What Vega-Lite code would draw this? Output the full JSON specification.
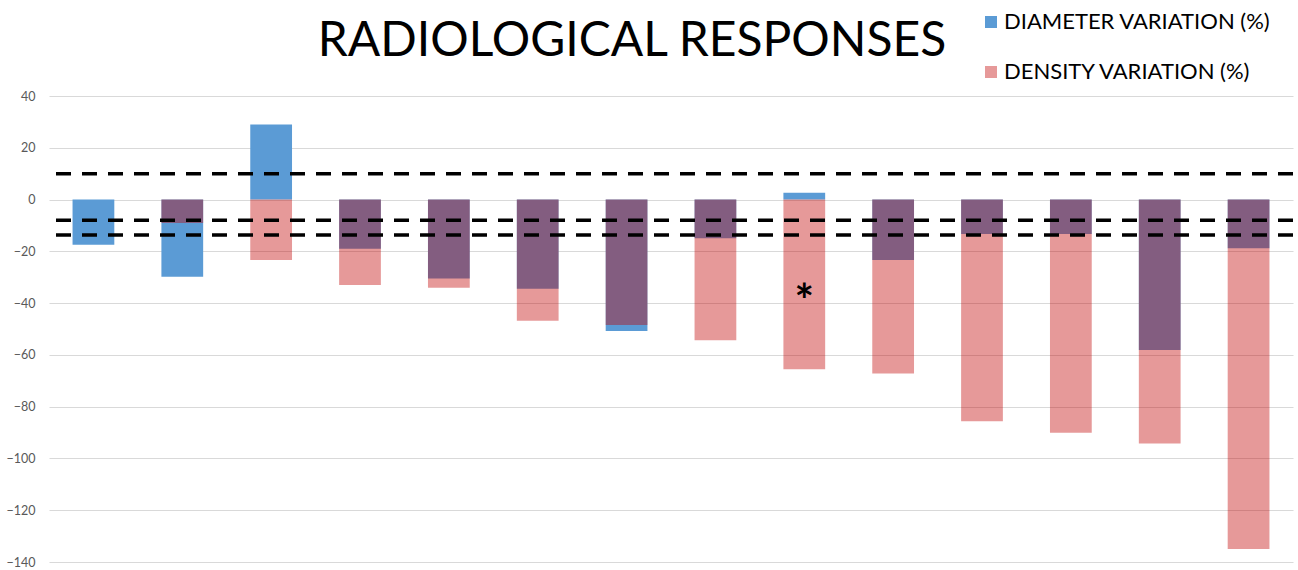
{
  "$schema": "https://vega.github.io/schema/vega-lite/v6.json",
  "width": 1244,
  "height": 466,
  "autosize": {"type": "none"},
  "padding": {"left": 49, "top": 96, "right": 5, "bottom": 8},
  "background": "white",
  "title": {
    "text": "RADIOLOGICAL RESPONSES",
    "font": "Lato",
    "fontSize": 48,
    "fontWeight": "normal",
    "color": "#000000",
    "anchor": "middle",
    "baseline": "alphabetic",
    "dx": -39,
    "dy": 93,
    "offset": 0
  },
  "config": {
    "view": {"stroke": null},
    "axis": {"labelFont": "Lato", "titleFont": "Lato"},
    "legend": {"labelFont": "Lato"}
  },
  "datasets": {
    "bars": [
      {"patient": 1, "measure": "DIAMETER VARIATION (%)", "value": -17.5},
      {"patient": 2, "measure": "DIAMETER VARIATION (%)", "value": -29.8},
      {"patient": 3, "measure": "DIAMETER VARIATION (%)", "value": 29},
      {"patient": 4, "measure": "DIAMETER VARIATION (%)", "value": -19},
      {"patient": 5, "measure": "DIAMETER VARIATION (%)", "value": -30.5},
      {"patient": 6, "measure": "DIAMETER VARIATION (%)", "value": -34.5},
      {"patient": 7, "measure": "DIAMETER VARIATION (%)", "value": -50.8},
      {"patient": 8, "measure": "DIAMETER VARIATION (%)", "value": -14.9},
      {"patient": 9, "measure": "DIAMETER VARIATION (%)", "value": 2.6},
      {"patient": 10, "measure": "DIAMETER VARIATION (%)", "value": -23.3},
      {"patient": 11, "measure": "DIAMETER VARIATION (%)", "value": -13.3},
      {"patient": 12, "measure": "DIAMETER VARIATION (%)", "value": -13.3},
      {"patient": 13, "measure": "DIAMETER VARIATION (%)", "value": -58.1},
      {"patient": 14, "measure": "DIAMETER VARIATION (%)", "value": -18.8},
      {"patient": 1, "measure": "DENSITY VARIATION (%)", "value": 0},
      {"patient": 2, "measure": "DENSITY VARIATION (%)", "value": -9.1},
      {"patient": 3, "measure": "DENSITY VARIATION (%)", "value": -23.3},
      {"patient": 4, "measure": "DENSITY VARIATION (%)", "value": -33},
      {"patient": 5, "measure": "DENSITY VARIATION (%)", "value": -34.1},
      {"patient": 6, "measure": "DENSITY VARIATION (%)", "value": -46.8},
      {"patient": 7, "measure": "DENSITY VARIATION (%)", "value": -48.5},
      {"patient": 8, "measure": "DENSITY VARIATION (%)", "value": -54.3},
      {"patient": 9, "measure": "DENSITY VARIATION (%)", "value": -65.5},
      {"patient": 10, "measure": "DENSITY VARIATION (%)", "value": -67.2},
      {"patient": 11, "measure": "DENSITY VARIATION (%)", "value": -85.6},
      {"patient": 12, "measure": "DENSITY VARIATION (%)", "value": -90.1},
      {"patient": 13, "measure": "DENSITY VARIATION (%)", "value": -94.2},
      {"patient": 14, "measure": "DENSITY VARIATION (%)", "value": -135}
    ],
    "thresholds": [
      {"threshold": 10},
      {"threshold": -8},
      {"threshold": -13.7}
    ],
    "notes": [
      {"patient": 9, "note": "*", "value": -35}
    ]
  },
  "layer": [
    {
      "data": {"name": "bars"},
      "mark": {"type": "bar"},
      "encoding": {
        "x": {
          "field": "patient",
          "type": "ordinal",
          "axis": null,
          "scale": {"paddingInner": 0.53, "paddingOuter": 0.265}
        },
        "y": {
          "field": "value",
          "type": "quantitative",
          "stack": null,
          "scale": {"domain": [-140, 40], "nice": false, "zero": false},
          "axis": {
            "title": null,
            "values": [-140, -120, -100, -80, -60, -40, -20, 0, 20, 40],
            "domain": false,
            "ticks": false,
            "grid": true,
            "gridColor": "#d9d9d9",
            "gridWidth": 1,
            "labelFontSize": 12.5,
            "labelColor": "#595959",
            "labelPadding": 14
          }
        },
        "color": {
          "field": "measure",
          "type": "nominal",
          "scale": {
            "domain": ["DIAMETER VARIATION (%)", "DENSITY VARIATION (%)"],
            "range": ["#5B9BD5", "#C00000"]
          },
          "legend": {
            "title": null,
            "orient": "none",
            "legendX": 931,
            "legendY": -85,
            "symbolType": "square",
            "symbolSize": 144,
            "symbolStrokeWidth": 0,
            "labelFontSize": 22,
            "labelLimit": 0,
            "labelColor": "#000000",
            "labelOffset": 2,
            "rowPadding": 28
          }
        },
        "opacity": {
          "field": "measure",
          "type": "nominal",
          "scale": {
            "domain": ["DIAMETER VARIATION (%)", "DENSITY VARIATION (%)"],
            "range": [1, 0.4]
          },
          "legend": null
        }
      }
    },
    {
      "data": {"name": "thresholds"},
      "mark": {"type": "rule", "color": "#000000", "strokeWidth": 3.5, "strokeDash": [15, 11]},
      "encoding": {
        "y": {"field": "threshold", "type": "quantitative"}
      }
    },
    {
      "data": {"name": "notes"},
      "mark": {"type": "text", "font": "Lato", "fontSize": 46, "fontWeight": "bold", "color": "#000000", "baseline": "middle", "align": "center", "dy": 13},
      "encoding": {
        "x": {"field": "patient", "type": "ordinal"},
        "y": {"field": "value", "type": "quantitative"},
        "text": {"field": "note"}
      }
    }
  ]
}
